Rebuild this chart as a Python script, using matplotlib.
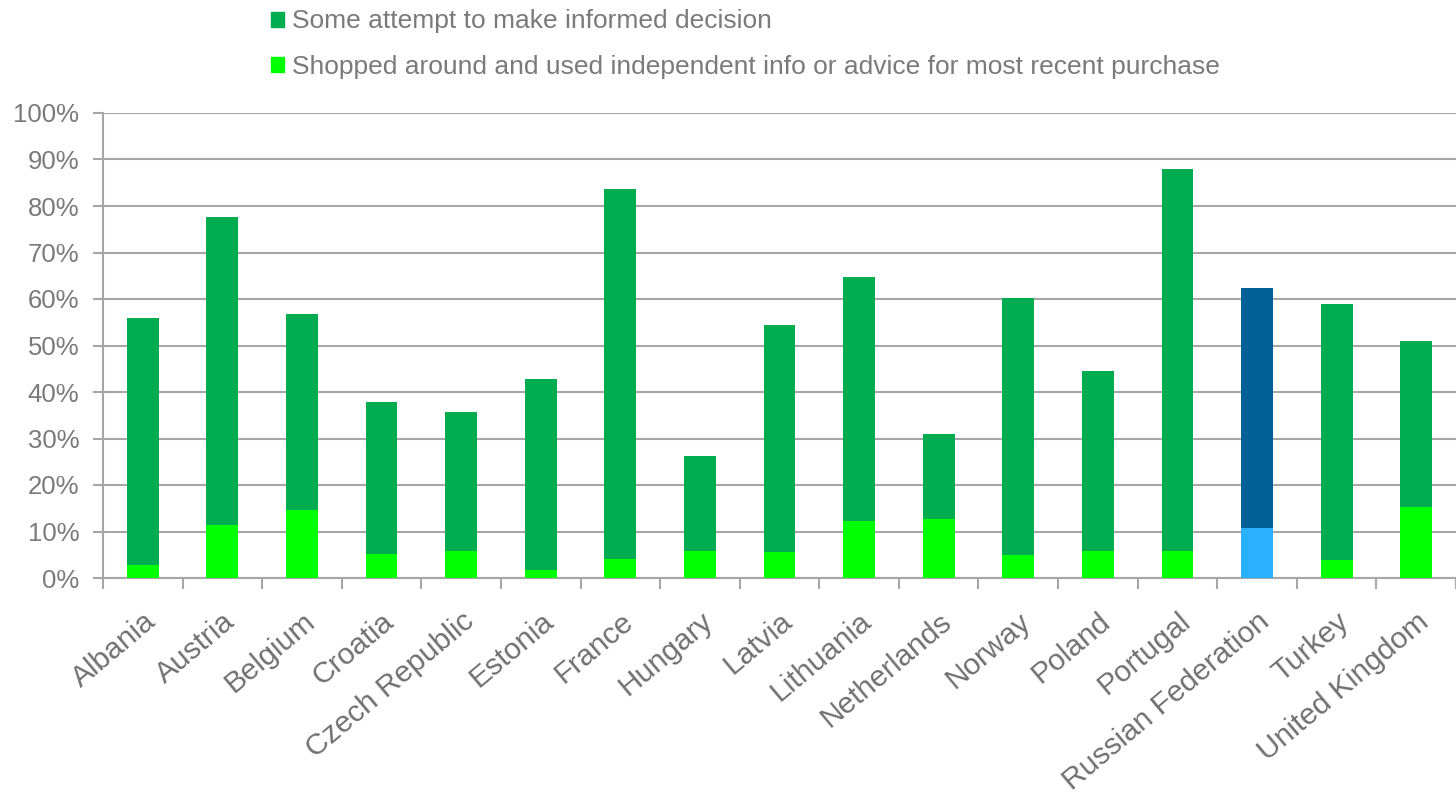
import matplotlib.pyplot as plt
import numpy as np
from matplotlib.patches import Patch
from matplotlib.ticker import PercentFormatter

countries = ["Albania", "Austria", "Belgium", "Croatia", "Czech Republic", "Estonia",
             "France", "Hungary", "Latvia", "Lithuania", "Netherlands", "Norway",
             "Poland", "Portugal", "Russian Federation", "Turkey", "United Kingdom"]
# % with some attempt to make an informed decision (bar total)
informed = [56, 77.7, 56.7, 37.9, 35.7, 42.8, 83.6, 26.2, 54.4, 64.8, 30.9,
            60.3, 44.5, 87.9, 62.4, 58.9, 51.0]
# % shopped around and used independent info/advice
shopped = [2.9, 11.5, 14.7, 5.1, 5.7, 1.8, 4.1, 5.7, 5.5, 12.2, 12.6,
           5.0, 5.7, 5.9, 10.8, 3.8, 15.2]

dark_green = "#00ac50"
light_green = "#00ff00"
dark_blue = "#006199"
light_blue = "#29b0ff"
grey = "#7a7a7a"

plt.rcParams["font.family"] = ["Liberation Sans", "DejaVu Sans"]

fig = plt.figure(figsize=(14.56, 7.97), dpi=100)
ax = fig.add_axes([103 / 1456, 1 - 578 / 797, 1353 / 1456, 465 / 797])

x = np.arange(len(countries))
top_cols = [dark_blue if c == "Russian Federation" else dark_green for c in countries]
bot_cols = [light_blue if c == "Russian Federation" else light_green for c in countries]

ax.bar(x, informed, width=0.4, color=top_cols, zorder=3)
ax.bar(x, shopped, width=0.4, color=bot_cols, zorder=4)

ax.set_ylim(0, 100)
ax.set_xlim(-0.5, len(countries) - 0.5)
ax.set_yticks(np.arange(0, 101, 10))
ax.yaxis.set_major_formatter(PercentFormatter(decimals=0))
ax.grid(axis="y", color="#a6a6a6", linewidth=1.5, zorder=0)

ax.set_xticks(x)
ax.set_xticklabels(countries, rotation=40, ha="right", rotation_mode="anchor",
                   fontsize=21.5, color="#707070")
ax.set_xticks(np.arange(-0.5, len(countries), 1), minor=True)
ax.tick_params(axis="x", which="major", length=0, pad=21)
ax.tick_params(axis="x", which="minor", length=8, width=1.5, color="#a6a6a6")
ax.tick_params(axis="y", length=7, width=1.5, color="#a6a6a6", labelsize=18.5,
               labelcolor=grey, pad=10)

for s in ["top", "right"]:
    ax.spines[s].set_visible(False)
for s in ["left", "bottom"]:
    ax.spines[s].set_color("#a6a6a6")
    ax.spines[s].set_linewidth(1.5)

handles = [Patch(color=dark_green), Patch(color=light_green)]
labels = ["Some attempt to make informed decision",
          "Shopped around and used independent info or advice for most recent purchase"]
fig.legend(handles, labels, loc="upper left", bbox_to_anchor=(247 / 1456, 1.018),
           frameon=False, fontsize=19, labelcolor=grey, handlelength=0.5,
           handleheight=0.5, handletextpad=0.3, labelspacing=0.82)

fig.savefig("out.png", dpi=100)
